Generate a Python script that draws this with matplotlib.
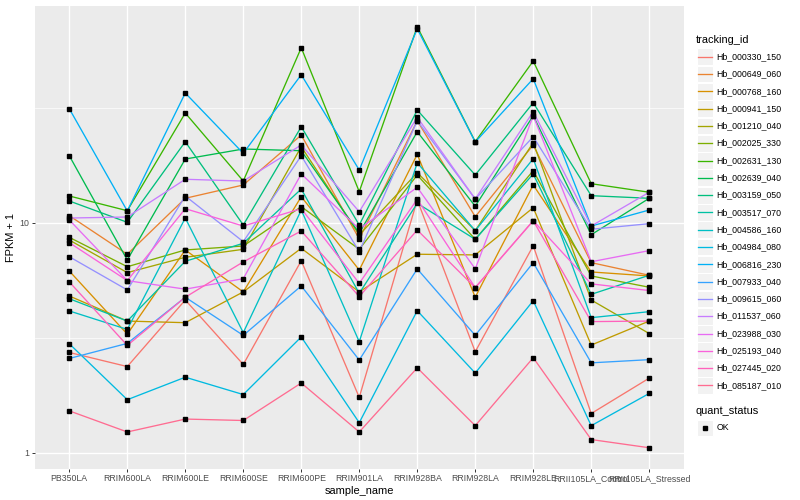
import numpy as np
import matplotlib.pyplot as plt
from matplotlib.patches import Rectangle
from matplotlib.ticker import NullFormatter

plt.rcParams['font.family'] = ['Liberation Sans', 'DejaVu Sans']

samples = ['PB350LA', 'RRIM600LA', 'RRIM600LE', 'RRIM600SE', 'RRIM600PE', 'RRIM901LA',
           'RRIM928BA', 'RRIM928LA', 'RRIM928LE', 'RRII105LA_Control', 'RRII105LA_Stressed']

tracking_ids = ['Hb_000330_150', 'Hb_000649_060', 'Hb_000768_160', 'Hb_000941_150',
                'Hb_001210_040', 'Hb_002025_330', 'Hb_002631_130', 'Hb_002639_040',
                'Hb_003159_050', 'Hb_003517_070', 'Hb_004586_160', 'Hb_004984_080',
                'Hb_006816_230', 'Hb_007933_040', 'Hb_009615_060', 'Hb_011537_060',
                'Hb_023988_030', 'Hb_025193_040', 'Hb_027445_020', 'Hb_085187_010']

# ggplot default hue palette for 20 levels
colors = ['#F8766D', '#EA8331', '#D89000', '#C09B00', '#A3A500', '#7CAE00', '#39B600',
          '#00BB4E', '#00BF7D', '#00C1A3', '#00BFC4', '#00BAE0', '#00B0F6', '#35A2FF',
          '#9590FF', '#C77CFF', '#E76BF3', '#FA62DB', '#FF62BC', '#FF6C91']

# FPKM + 1 per sample
hb_000330_150 = [2.73, 2.37, 4.62, 2.42, 6.85, 1.74, 12.6, 2.75, 7.96, 1.48, 2.11]
hb_000649_060 = [10.76, 7.31, 12.81, 14.64, 24.16, 8.52, 27.89, 10.65, 21.86, 6.72, 5.92]
hb_000768_160 = [6.18, 3.28, 7.63, 5.01, 13.02, 6.24, 19.91, 4.75, 14.64, 6.12, 5.88]
hb_000941_150 = [4.81, 3.74, 3.68, 5.01, 7.76, 5.01, 7.31, 7.26, 11.66, 2.94, 3.74]
hb_001210_040 = [8.43, 6.08, 7.09, 7.68, 21.49, 8.87, 16.56, 9.26, 22.37, 4.62, 3.30]
hb_002025_330 = [8.66, 6.45, 7.63, 7.94, 11.78, 7.68, 16.18, 8.49, 16.89, 5.88, 5.25]
hb_002631_130 = [13.11, 11.31, 30.12, 15.23, 57.97, 13.69, 71.55, 22.59, 50.74, 14.83, 13.61]
hb_002639_040 = [19.63, 6.90, 18.99, 21.00, 20.64, 9.02, 24.97, 11.83, 29.32, 8.89, 12.81]
hb_003159_050 = [12.47, 10.07, 22.59, 9.80, 26.26, 9.80, 31.04, 16.18, 33.40, 13.15, 12.81]
hb_003517_070 = [4.68, 3.74, 6.81, 8.16, 14.06, 4.94, 12.18, 8.49, 16.35, 4.89, 5.92]
hb_004586_160 = [4.14, 3.44, 10.51, 3.33, 11.39, 3.04, 18.30, 9.26, 19.05, 3.87, 4.11]
hb_004984_080 = [2.98, 1.70, 2.13, 1.79, 3.19, 1.35, 4.15, 2.22, 4.59, 1.31, 1.81]
hb_006816_230 = [31.45, 11.28, 36.81, 20.11, 44.22, 17.01, 70.13, 22.52, 42.48, 9.70, 11.39]
hb_007933_040 = [2.57, 2.99, 4.75, 3.24, 5.32, 2.53, 6.31, 3.24, 6.72, 2.46, 2.54]
hb_009615_060 = [7.13, 5.11, 13.11, 8.29, 19.63, 7.50, 27.89, 12.72, 23.75, 9.39, 9.93]
hb_011537_060 = [10.51, 10.62, 15.50, 15.23, 21.86, 11.20, 28.86, 12.72, 30.52, 9.70, 13.61]
hb_023988_030 = [10.31, 5.61, 5.15, 5.72, 16.35, 9.42, 14.30, 6.31, 29.32, 6.78, 7.58]
hb_025193_040 = [8.21, 5.61, 11.54, 9.70, 11.54, 5.46, 12.69, 5.23, 10.23, 5.43, 5.08]
hb_027445_020 = [5.54, 2.93, 4.75, 6.77, 9.23, 4.78, 9.32, 5.23, 10.23, 3.72, 3.74]
hb_085187_010 = [1.52, 1.23, 1.40, 1.38, 2.01, 1.23, 2.34, 1.31, 2.59, 1.14, 1.05]

series = [hb_000330_150, hb_000649_060, hb_000768_160, hb_000941_150, hb_001210_040,
          hb_002025_330, hb_002631_130, hb_002639_040, hb_003159_050, hb_003517_070,
          hb_004586_160, hb_004984_080, hb_006816_230, hb_007933_040, hb_009615_060,
          hb_011537_060, hb_023988_030, hb_025193_040, hb_027445_020, hb_085187_010]

W, H = 800, 500
fig = plt.figure(figsize=(8, 5), dpi=100)
ax = fig.add_axes([34.5 / W, 1 - 468.8 / H, (684 - 34.5) / W, (468.8 - 5.7) / H])
ax.set_facecolor('#EBEBEB')
for s in ax.spines.values():
    s.set_visible(False)

x = np.arange(len(samples))
for vals, c in zip(series, colors):
    ax.plot(x, vals, color=c, lw=0.95, zorder=2)
for vals in series:
    ax.plot(x, vals, ls='none', marker='s', ms=2.2, color='black', zorder=3)

ax.set_yscale('log')
allv = np.log10(np.concatenate([np.array(v) for v in series]))
lo, hi = allv.min(), allv.max()
pad = 0.05 * (hi - lo)
ax.set_ylim(10 ** (lo - pad), 10 ** (hi + pad))
ax.set_xlim(-0.6, len(samples) - 0.4)

ax.set_yticks([1, 10])
ax.set_yticklabels(['1', '10'])
ax.set_yticks([10 ** 0.5, 10 ** 1.5], minor=True)
ax.yaxis.set_minor_formatter(NullFormatter())
ax.set_xticks(x)
ax.set_xticklabels(samples)

ax.grid(which='major', color='white', lw=1.0)
ax.grid(which='minor', axis='y', color='white', lw=0.5)
ax.set_axisbelow(True)
ax.tick_params(which='major', length=2.0, width=0.7, color='#333333',
               labelsize=6.3, labelcolor='#4D4D4D', pad=1.6)
ax.tick_params(which='minor', length=0)

ax.set_xlabel('sample_name', fontsize=7.9, labelpad=2.0)
ax.set_ylabel('FPKM + 1', fontsize=7.9, labelpad=2.5)

# legends drawn in pixel coordinates
lg = fig.add_axes([0, 0, 1, 1], facecolor='none')
lg.set_xlim(0, W)
lg.set_ylim(H, 0)
lg.axis('off')

lg.text(696, 40, 'tracking_id', fontsize=7.9, va='center', ha='left')
for i, (tid, c) in enumerate(zip(tracking_ids, colors)):
    yc = 56.7 + 17.3 * i
    lg.add_patch(Rectangle((696.5, yc - 8.4), 16.8, 16.8, fc='#F2F2F2', ec='white', lw=0.8))
    lg.plot([698, 711.5], [yc, yc], color=c, lw=0.95)
    lg.text(716.5, yc, tid, fontsize=6.3, va='center', ha='left')

lg.text(696, 411.5, 'quant_status', fontsize=7.9, va='center', ha='left')
yc = 428
lg.add_patch(Rectangle((696.5, yc - 8.4), 16.8, 16.8, fc='#F2F2F2', ec='white', lw=0.8))
lg.plot([705], [yc], marker='s', ms=2.2, color='black')
lg.text(716.5, yc, 'OK', fontsize=6.3, va='center', ha='left')

fig.savefig('out.png', dpi=100)
